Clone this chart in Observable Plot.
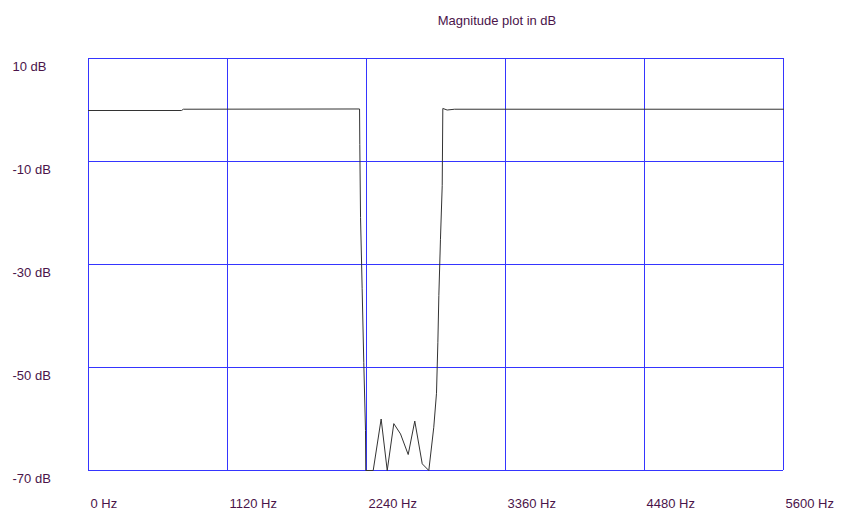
<!DOCTYPE html>
<html>
<head>
<meta charset="utf-8">
<script src="https://cdn.jsdelivr.net/npm/d3@7"></script>
<script src="https://cdn.jsdelivr.net/npm/@observablehq/plot@0.6"></script>
<style>
  html, body { margin: 0; padding: 0; background: #fff; }
  svg { display: block; }
</style>
</head>
<body>
<div id="chart"></div>
<script>
const title = "Magnitude plot in dB";
const freqs = [0, 749, 765, 2184, 2186, 2192, 2205, 2218, 2232, 2234, 2294, 2358, 2407, 2460, 2514, 2576, 2629, 2689, 2742, 2782, 2804, 2815, 2823, 2836, 2850, 2855, 2890, 2950, 5600];
const mags  = [-0.1, -0.1, 0.15, 0.2, -6.7, -20.9, -34.7, -49.0, -62.2, -70, -70, -60, -70, -60.9, -62.9, -66.9, -60.4, -68.7, -70, -61.6, -55.0, -45.1, -36.0, -25.1, -14.7, 0.3, 0.0, 0.15, 0.15];
const xTicks = [0, 1120, 2240, 3360, 4480, 5600];
const yTicks = [10, -10, -30, -50, -70];

const data = freqs.map((f, i) => ({f, m: mags[i]}));
const textColor = "#4a144a";
const gridColor = "#3535ff";

const chart = Plot.plot({
  width: 841,
  height: 516,
  marginLeft: 88,
  marginRight: 58,
  marginTop: 58,
  marginBottom: 46,
  style: {fontFamily: "'Liberation Sans', Arial, sans-serif", fontSize: "13px", background: "#fff"},
  x: {domain: [0, 5600], axis: null},
  y: {domain: [-70, 10], axis: null, clamp: true},
  marks: [
    Plot.ruleX(xTicks, {x: d => d, stroke: gridColor, strokeWidth: 1}),
    Plot.ruleY(yTicks, {y: d => d, stroke: gridColor, strokeWidth: 1}),
    Plot.line(data, {x: "f", y: "m", stroke: "#333", strokeWidth: 1}),
    Plot.text(yTicks, {x: 0, y: d => d, text: d => `${d} dB`, textAnchor: "start", dx: -76, dy: 8, fill: textColor}),
    Plot.text(xTicks, {x: d => d, y: -70, text: d => `${d} Hz`, textAnchor: "start", dx: 2, dy: 33, fill: textColor}),
    Plot.text([title], {frameAnchor: "top", text: d => d, dx: 61, dy: -43, fill: textColor})
  ]
});
document.getElementById("chart").append(chart);
</script>
</body>
</html>
